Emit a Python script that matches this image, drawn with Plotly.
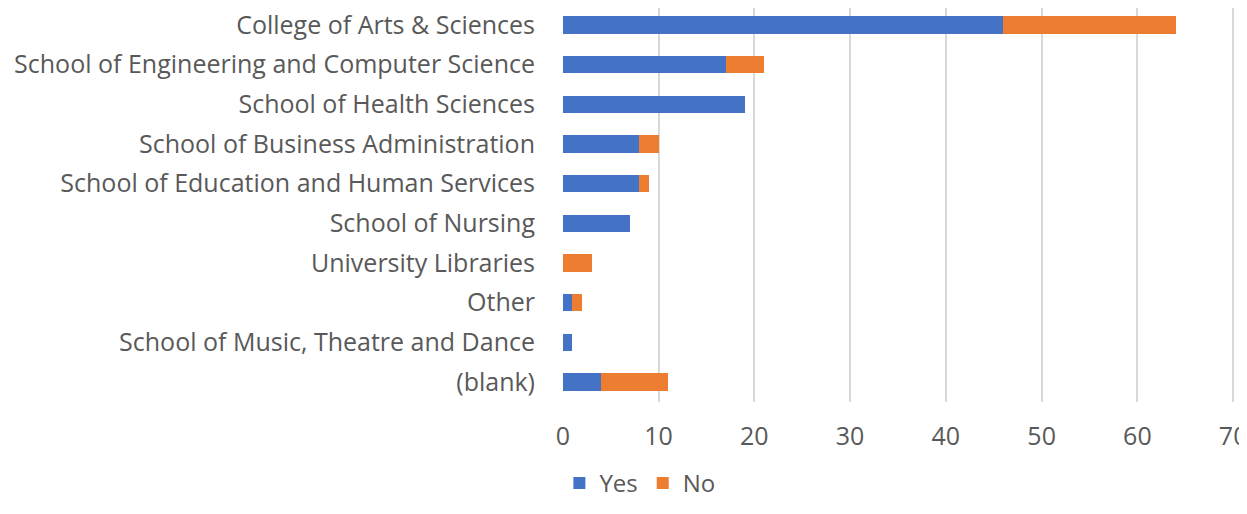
import plotly.graph_objects as go

categories = ["College of Arts & Sciences", "School of Engineering and Computer Science",
              "School of Health Sciences", "School of Business Administration",
              "School of Education and Human Services", "School of Nursing",
              "University Libraries", "Other", "School of Music, Theatre and Dance", "(blank)"]
yes_vals = [46, 17, 19, 8, 8, 7, 0, 1, 1, 4]
no_vals = [18, 4, 0, 2, 1, 0, 3, 1, 0, 7]
x_ticks = [0, 10, 20, 30, 40, 50, 60, 70]

FONT = "Open Sans"
GRAY = "#595959"
FS = 25

fig = go.Figure()
fig.add_trace(go.Bar(y=categories, x=yes_vals, orientation="h", name="Yes",
                     marker=dict(color="#4472C4", line=dict(width=0))))
fig.add_trace(go.Bar(y=categories, x=no_vals, orientation="h", name="No",
                     marker=dict(color="#ED7D31", line=dict(width=0))))

fig.update_layout(
    barmode="stack",
    bargap=0.57,
    width=1239, height=498,
    margin=dict(l=554, r=10, t=0, b=104),
    paper_bgcolor="white", plot_bgcolor="white",
    font=dict(family=FONT, size=FS, color=GRAY),
    showlegend=True,
    legend=dict(orientation="h", xref="container", yref="container", traceorder="normal",
                x=0.510, xanchor="center", y=0.0, yanchor="bottom",
                font=dict(size=24, color=GRAY), itemwidth=30, tracegroupgap=0),
    xaxis=dict(range=[-0.08, 70.4], tickvals=x_ticks, showgrid=True, gridcolor="#d9d9d9",
               gridwidth=2, zeroline=False, showline=False, ticks="",
               ticklabeloverflow="allow",
               ticklabelstandoff=17, tickfont=dict(size=FS, color=GRAY)),
    yaxis=dict(categoryorder="array", categoryarray=categories[::-1], autorange=False,
               range=[-0.504, 9.4286], showgrid=False, zeroline=False, showline=False, ticks="",
               ticklabelstandoff=26, tickfont=dict(size=FS, color=GRAY)),
)

fig.write_html("out.html")
